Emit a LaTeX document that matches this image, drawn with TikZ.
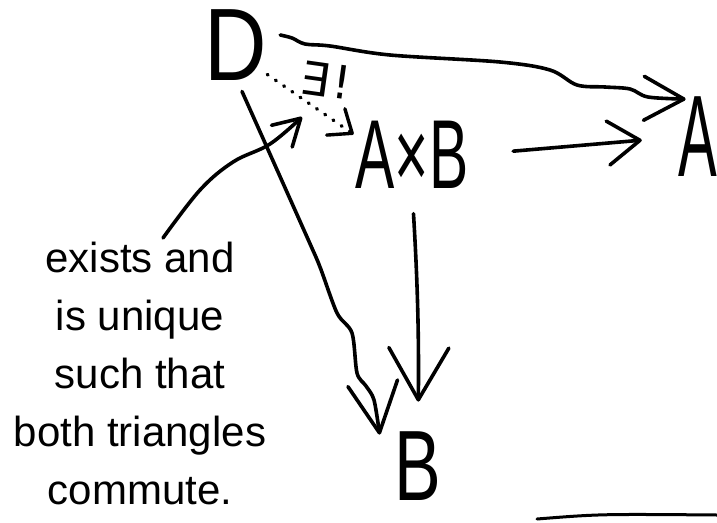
\documentclass[tikz,border=0pt]{standalone}
\usepackage{fontspec}
\setmainfont{Liberation Sans}
\newfontfamily\djv{DejaVu Sans}
\usepackage{graphicx}
\usetikzlibrary{arrows.meta}
\newcommand{\hsx}[2]{\scalebox{#1}[1]{#2}}
\begin{document}
\begin{tikzpicture}[x=1pt,y=-1pt,
  ink/.style={line width=3.6pt, line cap=round, line join=round},
  arr/.style 2 args={ink, -{Straight Barb[length=#1, width=#2, line width=3.6pt, round]}},
  letter/.style={inner sep=0pt, outer sep=0pt},
]
\useasboundingbox[fill=white] (0,0) rectangle (717,522);
% objects
\node[letter, font=\fontsize{103}{103}\selectfont] (D) at (236,45) {\hsx{0.84}{D}};
\node[letter, font=\fontsize{98}{98}\selectfont] (AB) at (412,155) {\hsx{0.6}{A×B}};
\node[letter, font=\fontsize{116}{116}\selectfont] (Ar) at (698,137) {\hsx{0.5}{A}};
\node[letter, font=\fontsize{100}{100}\selectfont] (B) at (418,466) {\hsx{0.7}{B}};
\node[letter, font=\fontsize{46}{46}\djv, rotate=-8] (ex) at (326,80) {∃\kern4pt!};
% annotation text
\node[letter, font=\fontsize{42}{58}\selectfont, align=center, anchor=north] (note) at (140,242)
  {exists and\\is unique\\such that\\both triangles\\commute.};
% D -> A (wavy)
\draw[arr={40pt}{44pt}] plot[smooth, tension=0.55] coordinates {([shift={(13,-10)}]D.east) (292,38) (305,44) (330,46) (390,55) (500,62) (550,70) (577,85) (605,87) (630,89) (648,97) ([shift={(7,2)}]Ar.north west)};
% AxB -> A
\draw[arr={32pt}{44pt}, shorten <=45pt, shorten >=37pt] (AB.east) -- (Ar.west);
% AxB -> B
\draw[arr={52pt}{60pt}, shorten <=25pt, shorten >=30pt] (AB.south) to[bend left=2] (B.north);
% D -> B
\draw[arr={50pt}{50pt}] plot[smooth, tension=0.5] coordinates {([shift={(6,11)}]D.south) (307,237) (320,267) (337,313) (352,333) (357,373) (366,386) (374,400) ([shift={(-15,3)}]B.north west)};
% D -> AxB unique dotted
\draw[ink, line width=3.4pt, dash pattern=on 1pt off 9pt, -{Straight Barb[length=20pt,width=32pt,line width=3.4pt, round]}] ([shift={(0,-6)}]D.south east) -- ([shift={(-2,13)}]AB.north west);
% annotation arrow
\coordinate (tipU) at (302,117);
\draw[arr={26pt}{30pt}] plot[smooth, tension=0.6] coordinates {([shift={(23,-4)}]note.north) (200,190) (233,162) (270,144) (tipU)};
% stroke at bottom right
\coordinate (s1) at (537,519);
\coordinate (s2) at (717,515);
\draw[ink, line width=3pt] (s1) .. controls (600,514) .. (s2);
\end{tikzpicture}
\end{document}
